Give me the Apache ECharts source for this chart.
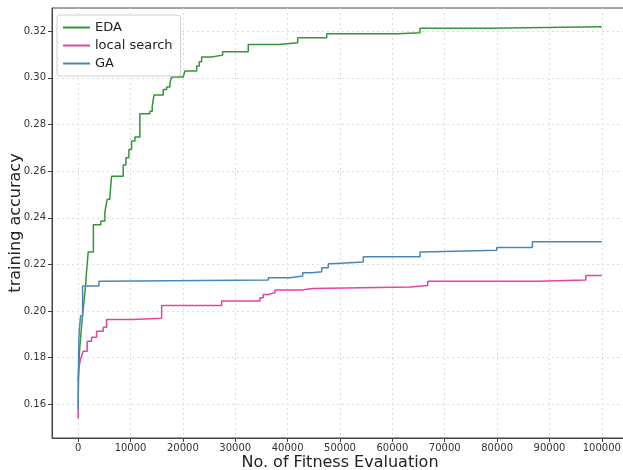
<!DOCTYPE html>
<html><head><meta charset="utf-8">
<script src="https://cdn.jsdelivr.net/npm/echarts@6/dist/echarts.min.js"></script>
<style>html,body{margin:0;padding:0;background:#fff}#c{width:623px;height:470px}</style>
</head><body><div id="c"></div>
<script>
const xTicks = [0, 10000, 20000, 30000, 40000, 50000, 60000, 70000, 80000, 90000, 100000];
const yTicks = [0.16, 0.18, 0.20, 0.22, 0.24, 0.26, 0.28, 0.30, 0.32];

const edaEval = [0, 150, 325, 520, 707, 955, 1185, 1414, 1567, 1758, 1911, 2904, 4337, 5101, 5292, 5541, 6057, 6381, 8598, 9114, 9687, 10203, 10833, 11788, 13699, 14138, 14463, 16240, 16890, 17520, 17845, 20061, 20386, 22621, 23118, 23577, 25487, 27590, 32480, 38212, 41918, 47459, 61139, 65285, 78335, 100000];
const edaAcc  = [0.170, 0.178, 0.185, 0.190, 0.195, 0.201, 0.206, 0.211, 0.216, 0.221, 0.2253, 0.237, 0.2386, 0.2423, 0.245, 0.2479, 0.2493, 0.2578, 0.2626, 0.2657, 0.2693, 0.2729, 0.2746, 0.2846, 0.2857, 0.2876, 0.2926, 0.295, 0.296, 0.2979, 0.3003, 0.301, 0.3029, 0.305, 0.3069, 0.3089, 0.3097, 0.3112, 0.3143, 0.315, 0.3172, 0.3189, 0.3193, 0.3212, 0.3219, 0.3219];

const lsEval = [0, 20, 60, 150, 400, 700, 955, 1720, 2560, 3515, 4777, 5426, 10508, 15934, 27398, 34715, 35346, 36301, 37582, 42683, 44785, 63375, 66757, 87583, 96944, 100000];
const lsAcc  = [0.154, 0.165, 0.172, 0.176, 0.179, 0.181, 0.1828, 0.1871, 0.1888, 0.1914, 0.1931, 0.1964, 0.1969, 0.2024, 0.2043, 0.2057, 0.2071, 0.2079, 0.209, 0.2097, 0.2103, 0.211, 0.2128, 0.2133, 0.2153, 0.2153];

const gaEval = [0, 38, 76, 134, 229, 459, 841, 3955, 4719, 36301, 40448, 42874, 44594, 46505, 47765, 48415, 54452, 65285, 65916, 79939, 86741, 100000];
const gaAcc  = [0.158, 0.170, 0.180, 0.188, 0.192, 0.198, 0.2107, 0.2128, 0.2133, 0.2143, 0.215, 0.2164, 0.2169, 0.2186, 0.2203, 0.221, 0.2233, 0.2253, 0.2261, 0.2272, 0.2297, 0.2297];

const zip = (a, b) => a.map((v, i) => [v, b[i]]);
const font = 'DejaVu Sans';
const chart = echarts.init(document.getElementById('c'), null, {renderer: 'canvas'});
const series = [
  {name: 'EDA', color: '#34963a', data: zip(edaEval, edaAcc)},
  {name: 'local search', color: '#e2449e', data: zip(lsEval, lsAcc)},
  {name: 'GA', color: '#4a87b9', data: zip(gaEval, gaAcc)}
].map(s => ({
  name: s.name, type: 'line', step: 'end', data: s.data, symbol: 'none',
  animation: false, lineStyle: {color: s.color, width: 1.5}, itemStyle: {color: s.color}
}));
chart.setOption({
  animation: false,
  backgroundColor: '#fff',
  textStyle: {fontFamily: font},
  grid: {left: 52, top: 8, right: -5, bottom: 32, show: true, borderColor: '#444', borderWidth: 1,
    containLabel: false, outerBoundsMode: 'none'},
  legend: {
    orient: 'vertical', left: 57, top: 15, icon: 'rect', itemWidth: 27, itemHeight: 2,
    itemGap: 5, padding: [6, 8, 6, 6], borderColor: '#d0d0d0', borderWidth: 1, borderRadius: 3,
    backgroundColor: '#fff',
    textStyle: {fontFamily: font, fontSize: 13, color: '#222'},
    data: ['EDA', 'local search', 'GA']
  },
  xAxis: {
    type: 'value', min: -5000, max: 105000,
    name: 'No. of Fitness Evaluation', nameLocation: 'middle', nameGap: 17, nameMoveOverlap: false,
    nameTextStyle: {fontFamily: font, fontSize: 16, color: '#222'},
    axisLine: {onZero: false, lineStyle: {color: '#444'}},
    axisTick: {show: true, length: 4, customValues: xTicks, lineStyle: {color: '#444'}},
    axisLabel: {customValues: xTicks, fontFamily: font, fontSize: 10, color: '#333', margin: 5,
      formatter: v => String(v)},
    splitLine: {show: true, lineStyle: {color: '#dcdcdc', type: [2, 3], width: 1}}
  },
  yAxis: {
    type: 'value', min: 0.1456, max: 0.3299,
    name: 'training accuracy', nameLocation: 'middle', nameGap: 28, nameMoveOverlap: false,
    nameTextStyle: {fontFamily: font, fontSize: 16, color: '#222'},
    axisLine: {show: true, onZero: false, lineStyle: {color: '#444'}},
    axisTick: {show: true, length: 4, customValues: yTicks, lineStyle: {color: '#444'}},
    axisLabel: {customValues: yTicks, fontFamily: font, fontSize: 10, color: '#333', margin: 6,
      formatter: v => v.toFixed(2)},
    splitLine: {show: true, lineStyle: {color: '#dcdcdc', type: [2, 3], width: 1}}
  },
  series: series
});
</script></body></html>
